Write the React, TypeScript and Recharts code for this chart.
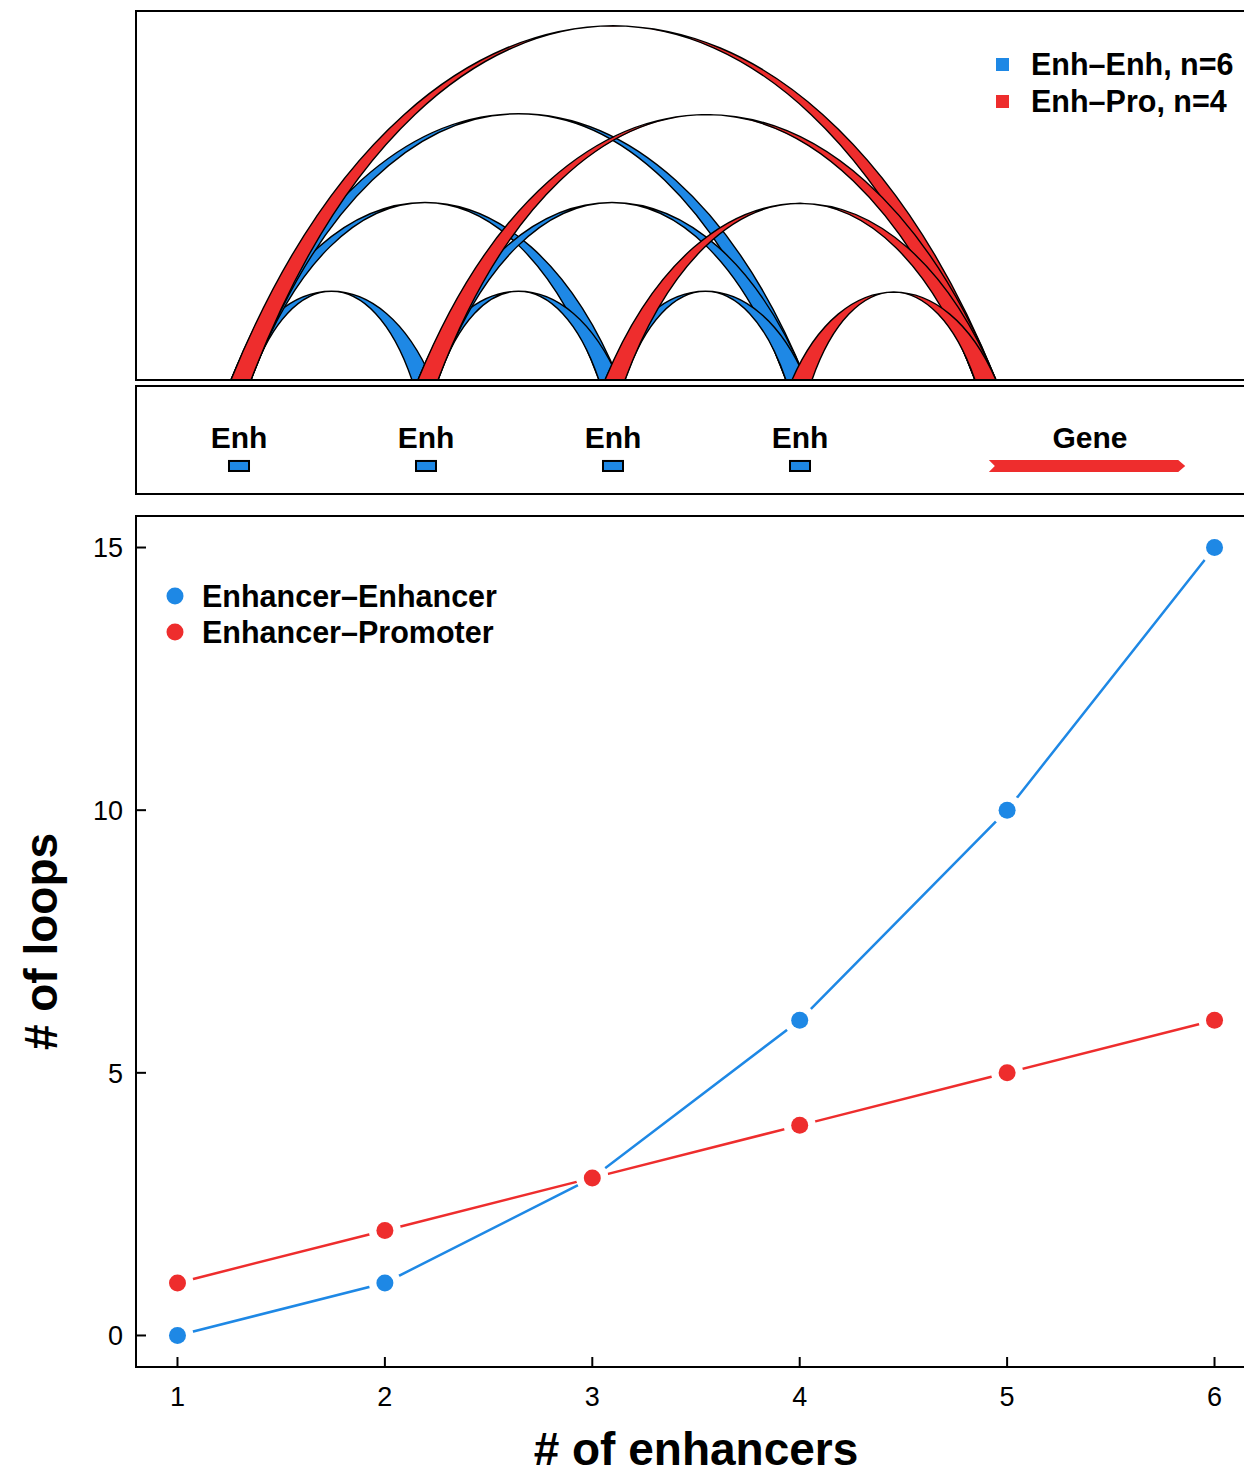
import { ComposedChart, LineChart, Line, XAxis, YAxis, ReferenceArea, Legend } from 'recharts';

const BLUE = '#1E88E5';
const RED = '#EE2D2D';
const FONT = '"Liberation Sans", Arial, Helvetica, sans-serif';

// genomic layout, one unit = spacing between enhancers
const ENHANCERS = [1, 2, 3, 4];
const PROMOTER = 4.99;
const GENE_START = 5.01;
const GENE_END = 6.06;

// loops between anchors (from, to)
const EE_LOOPS: [number, number][] = [[1, 2], [1, 3], [1, 4], [2, 3], [2, 4], [3, 4]];
const EP_LOOPS: [number, number][] = [[1, PROMOTER], [2, PROMOTER], [3, PROMOTER], [4, PROMOTER]];

// loop counts vs number of enhancers
const N_ENHANCERS = [1, 2, 3, 4, 5, 6];
const EE_COUNTS = [0, 1, 3, 6, 10, 15];
const EP_COUNTS = [1, 2, 3, 4, 5, 6];
const X_TICKS = [1, 2, 3, 4, 5, 6];
const Y_TICKS = [0, 5, 10, 15];

const countData = N_ENHANCERS.map((n, i) => ({ n, ee: EE_COUNTS[i], ep: EP_COUNTS[i] }));

// anchor half-widths around an element (left side of a loop / right side of a loop)
const LEFT_ANCHOR = [-0.043, 0.064];
const RIGHT_ANCHOR_ENH = [-0.075, 0.032];
const RIGHT_ANCHOR_PRO = [-0.054, 0.058];

const TRACK_X: [number, number] = [0.4492, 6.4385];

type Loop = { a: number; b: number; c: number; d: number; h: number; color: string };

const loops: Loop[] = [
  ...EE_LOOPS.map(([s, e]) => ({
    a: s + LEFT_ANCHOR[0], b: s + LEFT_ANCHOR[1],
    c: e + RIGHT_ANCHOR_ENH[0], d: e + RIGHT_ANCHOR_ENH[1],
    h: e - s, color: BLUE,
  })),
  ...EP_LOOPS.map(([s, e]) => ({
    a: s + LEFT_ANCHOR[0], b: s + LEFT_ANCHOR[1],
    c: e + RIGHT_ANCHOR_PRO[0], d: e + RIGHT_ANCHOR_PRO[1],
    h: e - s, color: RED,
  })),
];

function ribbon(loop: Loop) {
  return (p: any) => {
    const { x, y, width, height } = p;
    const k = width / (loop.d - loop.a);
    const bx = x + (loop.b - loop.a) * k;
    const cx = x + (loop.c - loop.a) * k;
    const base = y + height;
    const top = base - (4 / 3) * height;
    const wi = cx - bx;
    const d =
      `M${x},${base} C${x + width / 4},${top} ${x + (width * 3) / 4},${top} ${x + width},${base} ` +
      `L${cx},${base} C${cx - wi / 4},${top} ${bx + wi / 4},${top} ${bx},${base} Z`;
    return <path d={d} fill={loop.color} stroke="#000" strokeWidth={1.4} strokeLinejoin="round" />;
  };
}

const enhShape = (p: any) => (
  <g>
    <text x={p.x + p.width / 2} y={p.y - 13} textAnchor="middle" fontFamily={FONT} fontWeight="bold" fontSize={30} fill="#000">Enh</text>
    <rect x={p.x} y={p.y} width={p.width} height={p.height} fill={BLUE} stroke="#000" strokeWidth={2} />
  </g>
);

const geneShape = (p: any) => {
  const { x, y, width: w, height: h } = p;
  const pts = [
    [x, y], [x + w - 7, y], [x + w, y + h / 2], [x + w - 7, y + h], [x, y + h], [x + 6, y + h / 2],
  ].map((q) => q.join(',')).join(' ');
  return (
    <g>
      <text x={x + w / 2 + 3} y={y - 12} textAnchor="middle" fontFamily={FONT} fontWeight="bold" fontSize={30} fill="#000">Gene</text>
      <polygon points={pts} fill={RED} />
    </g>
  );
};

const ARC_LEGEND = [
  { label: `Enh–Enh, n=${EE_LOOPS.length}`, color: BLUE },
  { label: `Enh–Pro, n=${EP_LOOPS.length}`, color: RED },
];
const LINE_LEGEND = [
  { label: 'Enhancer–Enhancer', color: BLUE },
  { label: 'Enhancer–Promoter', color: RED },
];

const ArcLegend = () => (
  <div style={{ fontFamily: FONT, fontWeight: 'bold', fontSize: 30.5, color: '#000' }}>
    {ARC_LEGEND.map((it) => (
      <div key={it.label} style={{ display: 'flex', alignItems: 'center', height: 37, whiteSpace: 'nowrap' }}>
        <span style={{ width: 13, height: 13, background: it.color, marginRight: 22, display: 'inline-block' }} />
        {it.label}
      </div>
    ))}
  </div>
);

const LineLegend = () => (
  <div style={{ fontFamily: FONT, fontWeight: 'bold', fontSize: 30.5, color: '#000' }}>
    {LINE_LEGEND.map((it) => (
      <div key={it.label} style={{ display: 'flex', alignItems: 'center', height: 36, whiteSpace: 'nowrap' }}>
        <svg width={18} height={18} style={{ marginRight: 18 }}>
          <circle cx={9} cy={9} r={8.5} fill={it.color} />
        </svg>
        {it.label}
      </div>
    ))}
  </div>
);

// ticks point into the plot, as in the original figure
const YTick = (p: any) => (
  <g>
    <line x1={p.x + 13} x2={p.x + 23} y1={p.y} y2={p.y} stroke="#000" strokeWidth={2} />
    <text x={p.x} y={p.y} dy="0.36em" textAnchor="end" fontFamily={FONT} fontSize={27} fill="#000">{p.payload.value}</text>
  </g>
);

const XTick = (p: any) => (
  <g>
    <line x1={p.x} x2={p.x} y1={p.y - 20} y2={p.y - 30} stroke="#000" strokeWidth={2} />
    <text x={p.x} y={p.y} dy="0.71em" textAnchor="middle" fontFamily={FONT} fontSize={27} fill="#000">{p.payload.value}</text>
  </g>
);

const YTitle = (p: any) => {
  const vb = p.viewBox ?? { x: 0, y: 516, width: 136, height: 851 };
  const cy = vb.y + vb.height / 2;
  return (
    <text x={57} y={cy} transform={`rotate(-90, 57, ${cy})`} textAnchor="middle" fontFamily={FONT} fontWeight="bold" fontSize={46} fill="#000">
      # of loops
    </text>
  );
};

const XTitle = (p: any) => {
  const vb = p.viewBox ?? { x: 136, y: 1367, width: 1120, height: 108 };
  return (
    <text x={vb.x + vb.width / 2} y={vb.y + 98} textAnchor="middle" fontFamily={FONT} fontWeight="bold" fontSize={46} fill="#000">
      # of enhancers
    </text>
  );
};

const dotFor = (color: string) => (p: any) => (
  <g key={`d-${color}-${p.index}`}>
    <circle cx={p.cx} cy={p.cy} r={16} fill="#fff" />
    <circle cx={p.cx} cy={p.cy} r={8.5} fill={color} />
  </g>
);

const box = (left: number, top: number, height: number) => (
  <div style={{ position: 'absolute', left, top, width: 1200, height, border: '2px solid #000', boxSizing: 'border-box', pointerEvents: 'none' }} />
);

export default function App() {
  return (
    <div style={{ position: 'absolute', left: 0, top: 0, width: 1244, height: 1475, overflow: 'hidden', background: '#fff', fontFamily: FONT }}>
      {/* loop arcs */}
      <div style={{ position: 'absolute', left: 136, top: 10 }}>
        <ComposedChart width={1120} height={370} margin={{ top: 0, right: 0, bottom: 0, left: 0 }}>
          <XAxis type="number" dataKey="x" domain={TRACK_X} hide allowDataOverflow />
          <YAxis type="number" domain={[0, 4.169]} hide allowDataOverflow />
          {loops.map((l, i) => (
            <ReferenceArea key={i} x1={l.a} x2={l.d} y1={0} y2={l.h} ifOverflow="visible" shape={ribbon(l)} />
          ))}
          <Legend layout="vertical" align="center" verticalAlign="middle" content={ArcLegend} wrapperStyle={{ top: 36, left: 860, width: 'auto' }} />
        </ComposedChart>
      </div>
      {box(135, 10, 371)}

      {/* gene track */}
      <div style={{ position: 'absolute', left: 136, top: 386 }}>
        <ComposedChart width={1120} height={108} margin={{ top: 0, right: 0, bottom: 0, left: 0 }}>
          <XAxis type="number" dataKey="x" domain={TRACK_X} hide allowDataOverflow />
          <YAxis type="number" domain={[0, 1]} hide allowDataOverflow />
          {ENHANCERS.map((e) => (
            <ReferenceArea key={e} x1={e - 0.0535} x2={e + 0.0535} y1={0.213} y2={0.306} ifOverflow="visible" shape={enhShape} />
          ))}
          <ReferenceArea x1={GENE_START} x2={GENE_END} y1={0.204} y2={0.315} ifOverflow="visible" shape={geneShape} />
        </ComposedChart>
      </div>
      {box(135, 385, 110)}

      {/* loop counts */}
      <div style={{ position: 'absolute', left: 0, top: 506 }}>
        <LineChart width={1256} height={969} data={countData} margin={{ top: 10, right: 0, bottom: 0, left: 0 }}>
          <XAxis
            type="number" dataKey="n" domain={[0.8, 6.2]} ticks={X_TICKS} allowDataOverflow
            axisLine={false} tickLine={false} tickSize={6} tickMargin={14} tick={XTick} height={108}
            label={XTitle}
          />
          <YAxis
            type="number" domain={[-0.6, 15.6]} ticks={Y_TICKS} allowDataOverflow
            axisLine={false} tickLine={false} tickSize={6} tickMargin={7} tick={YTick} width={136}
            label={YTitle}
          />
          <Line dataKey="ee" stroke={BLUE} strokeWidth={2.5} dot={dotFor(BLUE)} activeDot={false} isAnimationActive={false} />
          <Line dataKey="ep" stroke={RED} strokeWidth={2.5} dot={dotFor(RED)} activeDot={false} isAnimationActive={false} />
          <Legend layout="vertical" align="center" verticalAlign="middle" content={LineLegend} wrapperStyle={{ top: 72, left: 166, width: 'auto' }} />
        </LineChart>
      </div>
      {box(135, 515, 853)}
    </div>
  );
}
